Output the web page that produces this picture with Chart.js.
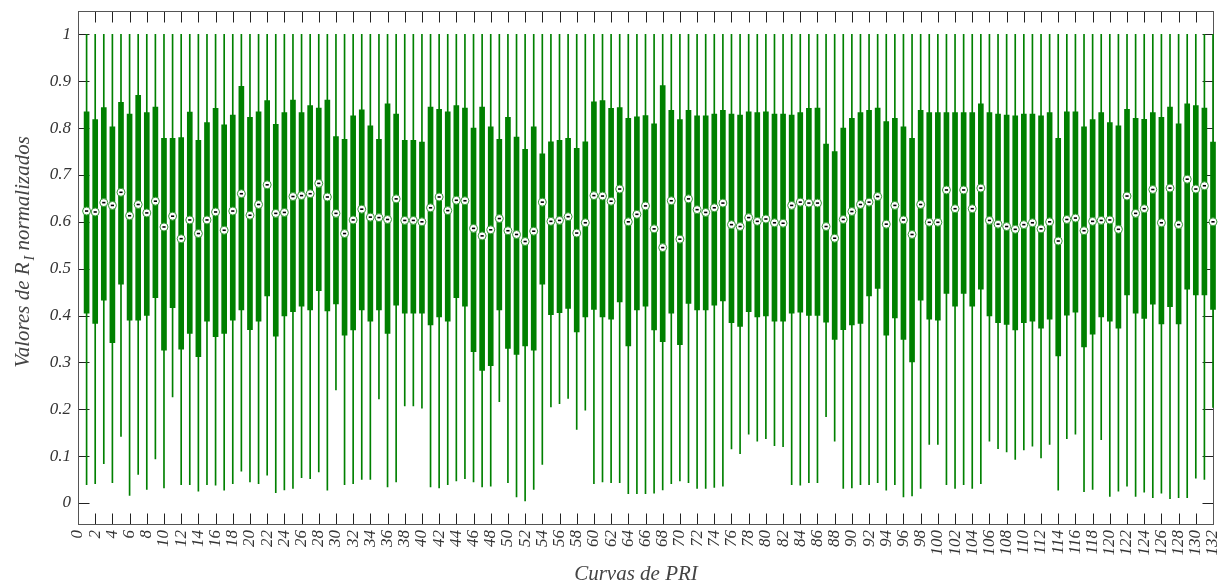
<!DOCTYPE html>
<html>
<head>
<meta charset="utf-8">
<script src="https://cdn.jsdelivr.net/npm/chart.js@4.4.0/dist/chart.umd.min.js"></script>
<style>
  html, body { margin: 0; padding: 0; background: #ffffff; }
  #wrap { width: 1219px; height: 585px; position: relative; }
</style>
</head>
<body>
<div id="wrap"><canvas id="chart" width="1219" height="585"></canvas></div>
<script>
// Curve numbers (one box per PRI curve)
const curves = Array.from({ length: 132 }, (_, i) => i + 1);

// Lower whisker end of each curve
const minVals = [
  0.039, 0.041, 0.084, 0.043, 0.142, 0.016, 0.061, 0.029, 0.094, 0.032,
  0.226, 0.039, 0.039, 0.025, 0.039, 0.038, 0.027, 0.041, 0.068, 0.045,
  0.041, 0.059, 0.022, 0.028, 0.031, 0.054, 0.052, 0.066, 0.027, 0.241,
  0.039, 0.041, 0.050, 0.050, 0.222, 0.034, 0.045, 0.207, 0.207, 0.202,
  0.034, 0.032, 0.039, 0.047, 0.052, 0.045, 0.034, 0.036, 0.216, 0.043,
  0.013, 0.004, 0.029, 0.082, 0.205, 0.212, 0.223, 0.157, 0.198, 0.041,
  0.045, 0.043, 0.043, 0.020, 0.020, 0.020, 0.021, 0.028, 0.041, 0.047,
  0.043, 0.031, 0.031, 0.033, 0.036, 0.115, 0.105, 0.147, 0.132, 0.137,
  0.122, 0.120, 0.039, 0.038, 0.043, 0.043, 0.184, 0.132, 0.031, 0.032,
  0.039, 0.039, 0.043, 0.027, 0.039, 0.013, 0.015, 0.031, 0.125, 0.125,
  0.039, 0.031, 0.039, 0.031, 0.041, 0.132, 0.116, 0.109, 0.093, 0.113,
  0.121, 0.096, 0.125, 0.027, 0.137, 0.147, 0.024, 0.029, 0.135, 0.014,
  0.025, 0.036, 0.014, 0.023, 0.011, 0.021, 0.009, 0.011, 0.011, 0.053,
  0.050, 0.204
];

// First quartile
const q1Vals = [
  0.405, 0.383, 0.433, 0.342, 0.467, 0.390, 0.390, 0.400, 0.438, 0.326,
  0.417, 0.328, 0.362, 0.312, 0.388, 0.355, 0.362, 0.390, 0.412, 0.370,
  0.388, 0.442, 0.356, 0.399, 0.408, 0.420, 0.412, 0.453, 0.410, 0.425,
  0.358, 0.369, 0.412, 0.388, 0.412, 0.362, 0.422, 0.405, 0.405, 0.405,
  0.380, 0.397, 0.388, 0.438, 0.420, 0.323, 0.283, 0.293, 0.412, 0.330,
  0.317, 0.335, 0.326, 0.467, 0.402, 0.406, 0.415, 0.365, 0.397, 0.413,
  0.397, 0.392, 0.429, 0.335, 0.412, 0.420, 0.369, 0.344, 0.405, 0.338,
  0.426, 0.412, 0.412, 0.422, 0.431, 0.385, 0.377, 0.408, 0.397, 0.399,
  0.388, 0.388, 0.405, 0.407, 0.400, 0.400, 0.386, 0.349, 0.370, 0.380,
  0.383, 0.442, 0.458, 0.358, 0.395, 0.349, 0.301, 0.433, 0.392, 0.390,
  0.447, 0.420, 0.447, 0.420, 0.456, 0.399, 0.385, 0.381, 0.369, 0.385,
  0.388, 0.373, 0.392, 0.314, 0.401, 0.407, 0.333, 0.360, 0.397, 0.388,
  0.373, 0.444, 0.405, 0.394, 0.424, 0.382, 0.419, 0.382, 0.456, 0.444,
  0.444, 0.413
];

// Median
const medVals = [
  0.623, 0.621, 0.641, 0.635, 0.663, 0.613, 0.637, 0.619, 0.644, 0.589,
  0.612, 0.564, 0.604, 0.575, 0.604, 0.621, 0.582, 0.623, 0.660, 0.614,
  0.637, 0.679, 0.618, 0.620, 0.654, 0.656, 0.660, 0.682, 0.653, 0.618,
  0.575, 0.604, 0.627, 0.610, 0.609, 0.605, 0.649, 0.603, 0.603, 0.600,
  0.630, 0.653, 0.624, 0.646, 0.645, 0.586, 0.570, 0.583, 0.607, 0.581,
  0.573, 0.558, 0.580, 0.642, 0.601, 0.603, 0.611, 0.576, 0.598, 0.656,
  0.655, 0.644, 0.670, 0.600, 0.616, 0.634, 0.585, 0.545, 0.645, 0.563,
  0.649, 0.626, 0.620, 0.630, 0.640, 0.594, 0.590, 0.609, 0.601, 0.606,
  0.598, 0.597, 0.635, 0.642, 0.640, 0.640, 0.590, 0.565, 0.605, 0.622,
  0.637, 0.642, 0.654, 0.595, 0.635, 0.604, 0.573, 0.637, 0.599, 0.599,
  0.668, 0.628, 0.668, 0.628, 0.672, 0.603, 0.595, 0.590, 0.584, 0.594,
  0.598, 0.585, 0.600, 0.559, 0.605, 0.608, 0.581, 0.601, 0.603, 0.604,
  0.584, 0.655, 0.618, 0.628, 0.669, 0.598, 0.672, 0.594, 0.691, 0.670,
  0.677, 0.600
];

// Third quartile
const q3Vals = [
  0.835, 0.818, 0.844, 0.803, 0.855, 0.830, 0.870, 0.833, 0.845, 0.778,
  0.778, 0.780, 0.834, 0.774, 0.812, 0.842, 0.807, 0.828, 0.889, 0.823,
  0.835, 0.859, 0.808, 0.833, 0.860, 0.833, 0.848, 0.843, 0.860, 0.782,
  0.776, 0.826, 0.839, 0.805, 0.776, 0.852, 0.830, 0.774, 0.774, 0.770,
  0.845, 0.840, 0.835, 0.848, 0.843, 0.800, 0.845, 0.803, 0.776, 0.823,
  0.781, 0.755, 0.803, 0.745, 0.771, 0.774, 0.778, 0.757, 0.771, 0.856,
  0.859, 0.842, 0.844, 0.821, 0.824, 0.827, 0.809, 0.891, 0.838, 0.818,
  0.838, 0.826, 0.826, 0.830, 0.838, 0.830, 0.828, 0.835, 0.833, 0.835,
  0.830, 0.830, 0.828, 0.833, 0.842, 0.843, 0.766, 0.750, 0.800, 0.821,
  0.833, 0.838, 0.843, 0.814, 0.821, 0.803, 0.778, 0.838, 0.833, 0.833,
  0.833, 0.833, 0.833, 0.833, 0.852, 0.833, 0.830, 0.828, 0.826, 0.830,
  0.830, 0.826, 0.833, 0.778, 0.835, 0.835, 0.803, 0.818, 0.833, 0.812,
  0.805, 0.840, 0.821, 0.819, 0.833, 0.823, 0.845, 0.809, 0.852, 0.848,
  0.843, 0.770
];

// Upper whisker end (every curve reaches the normalised maximum)
const maxVals = new Array(132).fill(1);

// Axis tick values
const xTickValues = Array.from({ length: 67 }, (_, i) => i * 2);
const yTickValues = [0, 0.1, 0.2, 0.3, 0.4, 0.5, 0.6, 0.7, 0.8, 0.9, 1];

const GREEN = '#008000';
const SERIF = '"Liberation Serif", "DejaVu Serif", serif';

const whiskerData = curves.map((c, i) => ({ x: c, y: [minVals[i], maxVals[i]] }));
const boxData = curves.map((c, i) => ({ x: c, y: [q1Vals[i], q3Vals[i]] }));
const medianData = curves.map((c, i) => ({ x: c, y: medVals[i] }));

// Box frame with inward tick marks on all four sides, drawn under the data
const framePlugin = {
  id: 'frame',
  beforeDatasetsDraw(chart) {
    const { ctx, chartArea: a, scales } = chart;
    const L = Math.round(a.left) + 0.5, R = Math.round(a.right) + 0.5;
    const T = Math.round(a.top) + 0.5, B = Math.round(a.bottom) + 0.5;
    const len = 11;
    ctx.save();
    ctx.lineWidth = 1;
    ctx.strokeStyle = '#222';
    ctx.beginPath();
    scales.x.ticks.forEach(t => {
      const px = Math.round(scales.x.getPixelForValue(t.value)) + 0.5;
      ctx.moveTo(px, B); ctx.lineTo(px, B - len);
      ctx.moveTo(px, T); ctx.lineTo(px, T + len);
    });
    scales.y.ticks.forEach(t => {
      const py = Math.round(scales.y.getPixelForValue(t.value)) + 0.5;
      ctx.moveTo(L, py); ctx.lineTo(L + len, py);
      ctx.moveTo(R, py); ctx.lineTo(R - len, py);
    });
    ctx.stroke();
    ctx.strokeStyle = '#555';
    ctx.strokeRect(L, T, R - L, B - T);
    ctx.restore();
  }
};

// Axis titles (the y title carries a subscript)
const titlePlugin = {
  id: 'titles',
  afterDraw(chart) {
    const { ctx, chartArea: a } = chart;
    ctx.save();
    ctx.fillStyle = '#444';
    ctx.textBaseline = 'alphabetic';
    // x title
    ctx.font = 'italic 21px ' + SERIF;
    ctx.textAlign = 'center';
    ctx.fillText('Curvas de PRI', 636, 580);
    // y title
    const main1 = 'Valores de R';
    const sub = 'I';
    const main2 = ' normalizados';
    ctx.font = 'italic 21px ' + SERIF;
    const w1 = ctx.measureText(main1).width;
    const w3 = ctx.measureText(main2).width;
    ctx.font = 'italic 14px ' + SERIF;
    const w2 = ctx.measureText(sub).width + 2;
    const total = w1 + w2 + w3;
    ctx.translate(29, 252);
    ctx.rotate(-Math.PI / 2);
    ctx.textAlign = 'left';
    const x0 = -total / 2;
    ctx.font = 'italic 21px ' + SERIF;
    ctx.fillText(main1, x0, 0);
    ctx.font = 'italic 14px ' + SERIF;
    ctx.fillText(sub, x0 + w1 + 2, 5);
    ctx.font = 'italic 21px ' + SERIF;
    ctx.fillText(main2, x0 + w1 + w2, 0);
    ctx.restore();
  }
};

new Chart(document.getElementById('chart'), {
  type: 'bar',
  data: {
    datasets: [
      {
        label: 'whiskers',
        data: whiskerData,
        backgroundColor: GREEN,
        borderWidth: 0,
        barThickness: 1,
        grouped: false,
        order: 4,
        clip: false
      },
      {
        label: 'boxes',
        data: boxData,
        backgroundColor: GREEN,
        borderWidth: 0,
        barThickness: 5,
        grouped: false,
        order: 3,
        clip: false
      },
      {
        type: 'line',
        label: 'median',
        data: medianData,
        showLine: false,
        pointRadius: 4,
        pointBackgroundColor: '#ffffff',
        pointBorderColor: '#3a9a3a',
        pointBorderWidth: 1,
        order: 2,
        clip: false
      },
      {
        type: 'line',
        label: 'median-centre',
        data: medianData,
        showLine: false,
        pointStyle: 'line',
        pointRadius: 1.6,
        pointBorderColor: '#000000',
        pointBorderWidth: 1.6,
        order: 1,
        clip: false
      }
    ]
  },
  options: {
    responsive: false,
    devicePixelRatio: 1,
    animation: false,
    events: [],
    layout: { padding: { top: 11, right: 6, left: 0, bottom: 0 } },
    plugins: {
      legend: { display: false },
      tooltip: { enabled: false }
    },
    scales: {
      x: {
        type: 'linear',
        min: 0,
        max: 132,
        offset: false,
        grid: { display: false, drawTicks: false },
        border: { display: false },
        afterBuildTicks: s => { s.ticks = xTickValues.map(v => ({ value: v })); },
        afterFit: s => { s.height = 61; s.paddingLeft = 0; s.paddingRight = 0; },
        ticks: {
          autoSkip: false,
          minRotation: 90,
          maxRotation: 90,
          padding: 6,
          color: '#333',
          font: { family: SERIF, style: 'italic', size: 17 },
          callback: v => String(v)
        }
      },
      y: {
        type: 'linear',
        min: -0.045,
        max: 1.05,
        grid: { display: false, drawTicks: false },
        border: { display: false },
        afterBuildTicks: s => { s.ticks = yTickValues.map(v => ({ value: v })); },
        afterFit: s => { s.width = 78; s.paddingTop = 0; s.paddingBottom = 0; },
        ticks: {
          padding: 7,
          color: '#333',
          font: { family: SERIF, style: 'italic', size: 17 },
          callback: v => String(+v.toFixed(1))
        }
      }
    }
  },
  plugins: [framePlugin, titlePlugin]
});
</script>
</body>
</html>
